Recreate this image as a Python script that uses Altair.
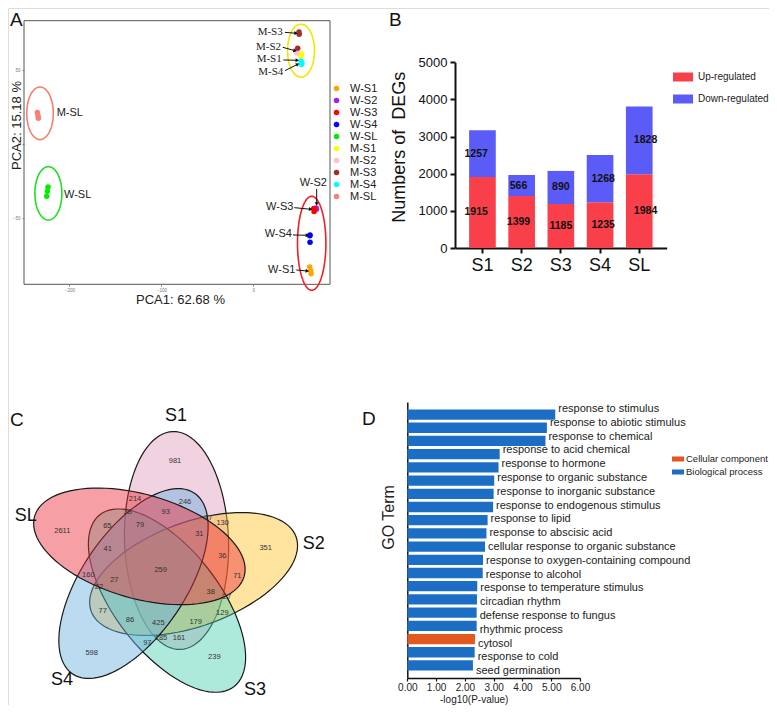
import math
import altair as alt
import pandas as pd

W, H = 761, 697          # chart area (page minus 8px margins)
M = 8                    # page margin, used to turn page pixels into chart pixels

# ------------------------------------------------------------------ data
# Panel A : PCA
pca_groups = ["W-S1", "W-S2", "W-S3", "W-S4", "W-SL", "M-S1", "M-S2", "M-S3", "M-S4", "M-SL"]
pca_colors = ["#FFA500", "#A020F0", "#FF0000", "#0000FF", "#00EE00",
              "#FFFF00", "#FFC0CB", "#A52A2A", "#00FFFF", "#FA8072"]
pca_sample = (["W-S1"] * 3 + ["W-S2"] * 3 + ["W-S3"] * 3 + ["W-S4"] * 3 + ["W-SL"] * 3 +
              ["M-S1"] * 3 + ["M-S2"] * 3 + ["M-S3"] * 3 + ["M-S4"] * 3 + ["M-SL"] * 3)
pca1 = [61.2, 62.3, 62.8, 68.3, 68.6, 68.0, 65.6, 66.6, 66.0, 61.6, 61.3, 61.6,
        -223.2, -223.9, -224.6, 51.8, 52.4, 51.4, 46.4, 47.4, 46.8, 49.6, 49.8, 48.2,
        51.8, 52.9, 52.2, -234.8, -234.1, -233.7]
pca2 = [-83.0, -85.4, -87.6, -43.2, -43.9, -43.6, -43.4, -44.4, -45.5, -61.4, -61.9, -66.4,
        -28.9, -31.8, -35.2, 60.5, 61.4, 59.8, 62.5, 61.8, 62.9, 76.0, 74.6, 65.1,
        56.2, 55.1, 54.0, 21.5, 19.5, 17.6]

# Panel B : DEG counts
deg_cats = ["S1", "S2", "S3", "S4", "SL"]
deg_up = [1915, 1399, 1185, 1235, 1984]
deg_down = [1257, 566, 890, 1268, 1828]

# Panel C : Venn region counts
venn_sets = ["S1", "S2", "S3", "S4", "SL"]
venn_counts = [981, 214, 246, 38, 93, 77, 130, 2611, 65, 79, 31, 351, 41, 36, 259, 71,
               160, 27, 22, 38, 27, 77, 129, 86, 425, 179, 185, 161, 97, 598, 239]

# Panel D : GO enrichment
go_terms = ["response to stimulus", "response to abiotic stimulus", "response to chemical",
            "response to acid chemical", "response to hormone", "response to organic substance",
            "response to inorganic substance", "response to endogenous stimulus",
            "response to lipid", "response to abscisic acid",
            "cellular response to organic substance", "response to oxygen-containing compound",
            "response to alcohol", "response to temperature stimulus", "circadian rhythm",
            "defense response to fungus", "rhythmic process", "cytosol", "response to cold",
            "seed germination"]
go_vals = [5.14, 4.85, 4.80, 3.21, 3.17, 3.02, 3.00, 2.98, 2.79, 2.75, 2.70, 2.63, 2.62,
           2.43, 2.42, 2.41, 2.41, 2.35, 2.34, 2.28]
go_cat = ["Biological process"] * 17 + ["Cellular component"] + ["Biological process"] * 2
go_cat_domain = ["Cellular component", "Biological process"]

# ------------------------------------------------------------------ layout / style
FONT = "Arial"


def ellipse_path(ratio, n=96):
    pts = []
    for k in range(n):
        t = 2 * math.pi * k / n
        pts.append(f"{math.cos(t):.4f},{ratio * math.sin(t):.4f}")
    return "M" + "L".join(pts) + "Z"


def rect_path(ratio):
    return f"M-1,-{ratio}L1,-{ratio}L1,{ratio}L-1,{ratio}Z"


layers = []

# ================================================================= PANEL A
xA_dom = [-249.3, 83.3]
yA_dom = [-94.8, 83.7]
xA_rng = [24 - M, 330 - M]
yA_rng = [284.3 - M, 20.7 - M]


def sxA():
    return alt.Scale(domain=xA_dom, range=xA_rng, nice=False, zero=False)


def syA():
    return alt.Scale(domain=yA_dom, range=yA_rng, nice=False, zero=False)


pxA = (xA_rng[1] - xA_rng[0]) / (xA_dom[1] - xA_dom[0])
pyA = (yA_rng[0] - yA_rng[1]) / (yA_dom[1] - yA_dom[0])

df_pca = pd.DataFrame({"grp": pca_sample, "x": pca1, "y": pca2})

axA_x = alt.Axis(orient="bottom", offset=yA_rng[0] - H, values=[-200, -100, 0], grid=False,
                 domain=False, tickSize=2, tickColor="#999", labelFontSize=4.5,
                 labelColor="#777", labelPadding=1, title="PCA1: 62.68 %", titleFontSize=13,
                 titleFontWeight="normal", titleColor="#222", titleX=180 - M,
                 titleY=299.3 - M - yA_rng[0], titleBaseline="middle", titleAlign="center")
axA_y = alt.Axis(orient="left", offset=-xA_rng[0], values=[-50, 0, 50], grid=False,
                 domain=False, tickSize=2, tickColor="#999", labelFontSize=4.5,
                 labelColor="#777", labelPadding=2, title="PCA2: 15.18 %", titleFontSize=13,
                 titleFontWeight="normal", titleColor="#222", titleX=8 - xA_rng[0],
                 titleY=125 - M, titleBaseline="middle", titleAlign="center", titleAngle=270)

frameA = alt.Chart(pd.DataFrame({"x0": [xA_dom[0]], "x1": [xA_dom[1]],
                                 "y0": [yA_dom[0]], "y1": [yA_dom[1]]})).mark_rect(
    fillOpacity=0, stroke="#555", strokeWidth=1).encode(
    x=alt.X("x0:Q", scale=sxA(), axis=axA_x), x2="x1:Q",
    y=alt.Y("y0:Q", scale=syA(), axis=axA_y), y2="y1:Q")
layers.append(frameA)

# group ellipses (centre in data units, radii in pixels)
ellA = pd.DataFrame({
    "cx": [-231.9, -222.8, 51.8, 63.4],
    "cy": [21.0, -33.2, 63.4, -67.0],
    "col": ["#F08070", "#22DD22", "#F2E600", "#EE2222"],
})
ellA_rx = [13.3, 13.5, 13.5, 14.2]
ellA_ry = [26.3, 26.7, 26.5, 47.0]
ellA["path"] = [ellipse_path(rx / ry) for rx, ry in zip(ellA_rx, ellA_ry)]
ellA["sz"] = [(2 * ry) ** 2 for ry in ellA_ry]
ellA["ang"] = [90] * 4
layers.append(alt.Chart(ellA).mark_point(filled=False, strokeWidth=1.6, opacity=1).encode(
    x=alt.X("cx:Q", scale=sxA(), axis=None),
    y=alt.Y("cy:Q", scale=syA(), axis=None),
    shape=alt.Shape("path:N", scale=None),
    size=alt.Size("sz:Q", scale=None),
    angle=alt.Angle("ang:Q", scale=None),
    stroke=alt.Stroke("col:N", scale=None),
))

layers.append(alt.Chart(df_pca).mark_point(filled=True, size=30, opacity=1).encode(
    x=alt.X("x:Q", scale=sxA(), axis=None),
    y=alt.Y("y:Q", scale=syA(), axis=None),
    color=alt.Color("grp:N", scale=alt.Scale(domain=pca_groups, range=pca_colors),
                    legend=alt.Legend(orient="none", legendX=323, legendY=75, title=None,
                                      symbolType="circle", symbolSize=30, labelFontSize=11,
                                      labelColor="#222", rowPadding=0, labelOffset=8,
                                      padding=0)),
))

# annotation labels and arrows
lab_right = pd.DataFrame({
    "t": ["M-S3", "M-S2", "M-S1", "M-S4", "W-S3", "W-S4", "W-S1"],
    "x": [31.9, 30.1, 30.8, 32.6, 43.5, 42.0, 45.7],
    "y": [75.8, 66.1, 57.6, 49.2, -42.2, -60.9, -85.1],
    "serif": [1, 1, 1, 1, 0, 0, 0],
})
layers.append(alt.Chart(lab_right[lab_right.serif == 1]).mark_text(
    align="right", baseline="middle", font="Times New Roman", fontSize=11, color="#222").encode(
    x=alt.X("x:Q", scale=sxA(), axis=None), y=alt.Y("y:Q", scale=syA(), axis=None), text="t:N"))
layers.append(alt.Chart(lab_right[lab_right.serif == 0]).mark_text(
    align="right", baseline="middle", font=FONT, fontSize=11, color="#222").encode(
    x=alt.X("x:Q", scale=sxA(), axis=None), y=alt.Y("y:Q", scale=syA(), axis=None), text="t:N"))
lab_left = pd.DataFrame({"t": ["M-SL", "W-SL"], "x": [-213.8, -205.8], "y": [21.0, -34.3]})
layers.append(alt.Chart(lab_left).mark_text(
    align="left", baseline="middle", font=FONT, fontSize=11, color="#222").encode(
    x=alt.X("x:Q", scale=sxA(), axis=None), y=alt.Y("y:Q", scale=syA(), axis=None), text="t:N"))
lab_c = pd.DataFrame({"t": ["W-S2"], "x": [65.2], "y": [-26.4]})
layers.append(alt.Chart(lab_c).mark_text(
    align="center", baseline="middle", font=FONT, fontSize=11, color="#222").encode(
    x=alt.X("x:Q", scale=sxA(), axis=None), y=alt.Y("y:Q", scale=syA(), axis=None), text="t:N"))

arr = pd.DataFrame({
    "x0": [34.4, 31.9, 32.6, 34.4, 68.8, 44.6, 43.1, 46.7],
    "y0": [75.8, 65.7, 57.1, 49.9, -30.2, -42.9, -61.4, -85.1],
    "x1": [46.4, 45.3, 47.8, 48.2, 68.8, 62.3, 58.7, 58.7],
    "y1": [75.2, 63.4, 56.9, 54.2, -40.4, -44.0, -61.6, -85.8],
})
arr["ang"] = [math.degrees(math.atan2((b - a) * pxA, (d - c) * pyA)) % 360
              for a, b, c, d in zip(arr.x0, arr.x1, arr.y0, arr.y1)]
layers.append(alt.Chart(arr).mark_rule(color="#111", strokeWidth=1).encode(
    x=alt.X("x0:Q", scale=sxA(), axis=None), x2="x1:Q",
    y=alt.Y("y0:Q", scale=syA(), axis=None), y2="y1:Q"))
layers.append(alt.Chart(arr).mark_point(shape="triangle-up", filled=True, size=16, opacity=1,
                                        color="#111").encode(
    x=alt.X("x1:Q", scale=sxA(), axis=None), y=alt.Y("y1:Q", scale=syA(), axis=None),
    angle=alt.Angle("ang:Q", scale=None)))

# ================================================================= PANEL B
xB_rng = [455 - M, 666.7 - M]
yB_rng = [248 - M, 62.3 - M]


def sxB():
    return alt.Scale(domain=deg_cats, range=xB_rng, paddingInner=0.32, paddingOuter=0.36)


def syB():
    return alt.Scale(domain=[0, 5000], range=yB_rng, nice=False, zero=True)


df_deg = pd.DataFrame({
    "cat": deg_cats * 2,
    "reg": ["Up-regulated"] * 5 + ["Down-regulated"] * 5,
    "val": deg_up + deg_down,
    "ord": [0] * 5 + [1] * 5,
})
df_deg["mid"] = [u / 2 for u in deg_up] + [u + d / 2 for u, d in zip(deg_up, deg_down)]

axB_x = alt.Axis(orient="bottom", offset=yB_rng[0] - H, title=None, labelFontSize=18,
                 labelColor="#111", labelAngle=0, tickSize=5, tickWidth=2, tickColor="#111",
                 domainWidth=2, domainColor="#111", labelPadding=3, grid=False)
axB_y = alt.Axis(orient="left", offset=-xB_rng[0], values=[0, 1000, 2000, 3000, 4000, 5000],
                 format="d", labelFontSize=13, labelColor="#111", tickSize=5, tickWidth=2,
                 tickColor="#111", domainWidth=2, domainColor="#111", labelPadding=3,
                 grid=False, title="Numbers of\u00a0 DEGs", titleFontSize=18,
                 titleFontWeight="normal", titleColor="#111", titleX=399.4 - M - xB_rng[0],
                 titleY=146.7 - M, titleAngle=270, titleBaseline="middle", titleAlign="center")

layers.append(alt.Chart(df_deg).mark_bar().encode(
    x=alt.X("cat:N", scale=sxB(), axis=axB_x, sort=deg_cats),
    y=alt.Y("val:Q", scale=syB(), axis=axB_y, stack="zero"),
    order=alt.Order("ord:Q"),
    color=alt.Color("reg:N", scale=alt.Scale(domain=["Up-regulated", "Down-regulated"],
                                             range=["#F9404A", "#5B5BF7"]),
                    legend=alt.Legend(orient="none", legendX=665, legendY=59, title=None,
                                      symbolType=rect_path(0.45), symbolSize=400,
                                      symbolStrokeWidth=0, labelFontSize=10,
                                      labelColor="#222", rowPadding=7, labelOffset=5,
                                      padding=0)),
))
layers.append(alt.Chart(df_deg).mark_text(font=FONT, fontSize=10.5, fontWeight="bold",
                                          color="#111", baseline="middle").encode(
    x=alt.X("cat:N", scale=sxB(), axis=None, sort=deg_cats),
    y=alt.Y("mid:Q", scale=syB(), axis=None),
    text="val:Q"))

# ================================================================= PANEL C
# Venn drawn in a local frame (pixels, origin at the diagram centre)
cx0, cy0 = 162 - M, 569 - M


def sxC():
    return alt.Scale(domain=[-cx0, W - cx0], range=[0, W], nice=False, zero=False)


def syC():
    return alt.Scale(domain=[-cy0, H - cy0], range=[0, H], nice=False, zero=False)


venn_r = 32
venn_theta = [-63, 9, 81, 153, 225]
venn_a, venn_b = 109, 52
venn_fill = ["#E19BBD", "#FFC32D", "#4BD1AF", "#69AFE1", "#EB2D37"]
ellC = pd.DataFrame({
    "set": venn_sets,
    "cx": [venn_r * math.cos(math.radians(t)) for t in venn_theta],
    "cy": [venn_r * math.sin(math.radians(t)) for t in venn_theta],
    "ang": [(t + 151) % 360 for t in venn_theta],
    "col": venn_fill,
})
ellC["path"] = ellipse_path(venn_b / venn_a)
ellC["sz"] = (2 * venn_a) ** 2
layers.append(alt.Chart(ellC).mark_point(filled=True, opacity=1, fillOpacity=0.45,
                                         stroke="#1a1a1a", strokeWidth=1.2,
                                         strokeOpacity=1).encode(
    x=alt.X("cx:Q", scale=sxC(), axis=None),
    y=alt.Y("cy:Q", scale=syC(), axis=None),
    shape=alt.Shape("path:N", scale=None),
    size=alt.Size("sz:Q", scale=None),
    angle=alt.Angle("ang:Q", scale=None),
    fill=alt.Fill("col:N", scale=None),
))
venn_lx = [13, -27, 23, -34.3, 3.7, 46.3, 60.7, -99.7, -54.7, -22, 37.3, 103.7, -54.3, 60.3,
           -1.3, 75.3, -73.7, -47.7, -63, 48.7, 65, -59.3, 60.3, -32, -3.7, 33.7, -1, 17,
           -14.7, -70.3, 52.3]
venn_ly = [-108.3, -70, -66.7, -57.3, -57.3, -50.7, -46.3, -38.3, -43.3, -44, -35, -20.7,
           -20, -13.3, 1, 6.7, 6, 11, 18.3, 22.7, 28.3, 41.7, 44.3, 51, 53.7, 53.3, 69.3,
           69.3, 74.3, 83.7, 87.7]
df_vc = pd.DataFrame({"n": venn_counts, "x": venn_lx, "y": venn_ly})
layers.append(alt.Chart(df_vc).mark_text(font=FONT, fontSize=7.5, color="#333",
                                         baseline="middle").encode(
    x=alt.X("x:Q", scale=sxC(), axis=None), y=alt.Y("y:Q", scale=syC(), axis=None),
    text="n:Q"))
df_vs = pd.DataFrame({"s": venn_sets, "x": [14, 151.8, 93, -100, -136.2],
                      "y": [-153, -25.3, 120.7, 111, -53.2]})
layers.append(alt.Chart(df_vs).mark_text(font=FONT, fontSize=18, color="#111",
                                         baseline="middle").encode(
    x=alt.X("x:Q", scale=sxC(), axis=None), y=alt.Y("y:Q", scale=syC(), axis=None),
    text="s:N"))

# ================================================================= PANEL D
xD_rng = [407.3 - M, 580 - M]
yD_rng = [402 - M, 678 - M]


def sxD():
    return alt.Scale(domain=[0, 6], range=xD_rng, nice=False, zero=True)


def syD():
    return alt.Scale(domain=go_terms, range=yD_rng, paddingInner=0.22, paddingOuter=0.56)


df_go = pd.DataFrame({"term": go_terms, "val": go_vals, "cat": go_cat})

axD_x = alt.Axis(orient="bottom", offset=yD_rng[1] - H, values=[0, 1, 2, 3, 4, 5, 6],
                 format=".2f", labelFontSize=10, labelColor="#222", tickSize=3,
                 tickColor="#111", tickWidth=1.2, domainColor="#111", domainWidth=1.5,
                 labelPadding=1, labelOverlap=False, labelBound=False, labelFlush=False,
                 grid=False, title="-log10(P-value)", titleFontSize=10,
                 titleFontWeight="normal", titleColor="#222", titleX=473.7 - M,
                 titleY=699.5 - M - yD_rng[1], titleBaseline="middle", titleAlign="center")
axD_y = alt.Axis(orient="left", offset=-xD_rng[0], labels=False, ticks=False,
                 domainColor="#111", domainWidth=1.5, grid=False, title="GO Term",
                 titleFontSize=16, titleFontWeight="normal", titleColor="#222",
                 titleX=388 - M - xD_rng[0], titleY=517 - M, titleAngle=270,
                 titleBaseline="middle", titleAlign="center")
layers.append(alt.Chart(df_go).mark_bar().encode(
    y=alt.Y("term:N", scale=syD(), axis=axD_y, sort=go_terms),
    x=alt.X("val:Q", scale=sxD(), axis=axD_x),
    color=alt.Color("cat:N", scale=alt.Scale(domain=go_cat_domain,
                                             range=["#E2581E", "#1C6EC4"]),
                    legend=alt.Legend(orient="none", legendX=664, legendY=445, title=None,
                                      symbolType=rect_path(0.42), symbolSize=144,
                                      symbolStrokeWidth=0, labelFontSize=9.5,
                                      labelColor="#222", rowPadding=2, labelOffset=2,
                                      padding=0)),
))
layers.append(alt.Chart(df_go).mark_text(font=FONT, fontSize=11, color="#222", align="left",
                                         baseline="middle", dx=3).encode(
    y=alt.Y("term:N", scale=syD(), axis=None, sort=go_terms),
    x=alt.X("val:Q", scale=sxD(), axis=None),
    text="term:N"))

# ================================================================= panel letters
for t, px, py in [("A", 10, 11), ("B", 389, 11), ("C", 10, 411), ("D", 362, 410)]:
    layers.append(alt.Chart(pd.DataFrame({"t": [t]})).mark_text(
        font=FONT, fontSize=19, color="#111", align="left", baseline="top").encode(
        x=alt.value(px - M), y=alt.value(py - M), text="t:N"))

chart = alt.layer(*layers).resolve_scale(
    x="independent", y="independent", color="independent", shape="independent",
    size="independent", angle="independent", stroke="independent", fill="independent",
).properties(
    width=W, height=H, autosize=alt.AutoSizeParams(type="none"), padding=0,
).configure_view(stroke=None).configure(font=FONT)

chart.save("out.html", embed_options={"renderer": "svg", "actions": False})
